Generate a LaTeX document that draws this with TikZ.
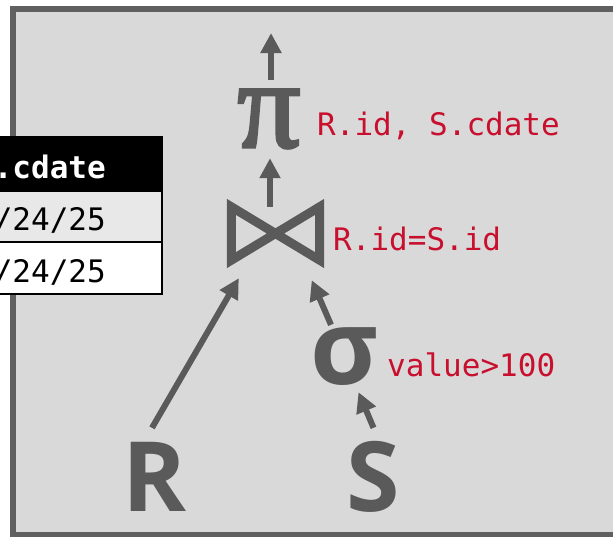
\documentclass[tikz,border=0pt]{standalone}
\usepackage{fontspec}
\setmainfont{DejaVu Sans}
\newfontfamily\mono{DejaVu Sans Mono}
\newfontfamily\osans{Open Sans}
\newfontfamily\tserb[FakeBold=2.5]{Liberation Serif}
\usetikzlibrary{arrows.meta,calc}
\definecolor{panel}{HTML}{D9D9D9}
\definecolor{frame}{HTML}{606060}
\definecolor{ink}{HTML}{5A5A5A}
\definecolor{lbl}{HTML}{C8102E}
\definecolor{rowgray}{HTML}{E8E8E8}
\tikzset{
  arr/.style={draw=ink, line width=6pt, -{Triangle[width=20pt,length=20pt]}},
  opsym/.style={anchor=base, inner sep=0pt, text=ink, text depth=0pt},
  lab/.style={anchor=base west, inner sep=0pt, text=lbl, font=\mono\fontsize{31}{31}\selectfont},
  celltxt/.style={anchor=base east, inner sep=0pt, font=\mono\fontsize{31}{31}\selectfont},
}
\begin{document}
\begin{tikzpicture}[x=1pt,y=-1pt]
\useasboundingbox (0,0) rectangle (613,536);
\fill[white] (0,0) rectangle (613,536);
% panel
\draw[line width=6pt, draw=frame, fill=panel] (13,9) rectangle (625,535);
% table (cropped)
\fill[black] (-5,136) rectangle (163,191);
\fill[rowgray] (-5,191) rectangle (163,242);
\fill[white] (-5,242) rectangle (163,295);
\draw[black, line width=2.5pt] (-5,191) -- (162,191);
\draw[black, line width=2.5pt] (-5,242) -- (162,242);
\draw[black, line width=2.5pt] (-5,137.5) rectangle (161.75,293.75);
\node[celltxt, text=white, font=\mono\bfseries\fontsize{31}{31}\selectfont] (hd) at (106,178) {.cdate};
\node[celltxt] (r1) at (106,230) {/24/25};
\node[celltxt] (r2) at (106,282) {/24/25};
% operators
\node[opsym, text height=60pt, font=\tserb\fontsize{125}{125}\selectfont] (pi) at (269,147) {π};
\node[minimum width=88pt, minimum height=53pt, inner sep=0pt] (join) at (275.5,233.5) {};
\draw[draw=ink, line width=9pt, miter limit=10] (join.north west) -- (join.south east) -- (join.north east) -- (join.south west) -- cycle;
\node[opsym, text height=56pt, font=\osans\bfseries\fontsize{104}{104}\selectfont] (sigma) at (344.5,384) {σ};
\node[opsym, text height=69pt, font=\osans\bfseries\fontsize{97}{97}\selectfont] (R) at (155,511) {R};
\node[opsym, text height=71pt, font=\osans\bfseries\fontsize{97}{97}\selectfont] (S) at (373.5,511) {S};
% labels
\node[lab] (lpi) at (317,135) {R.id, S.cdate};
\node[lab] (ljoin) at (333,250) {R.id=S.id};
\node[lab] (lsig) at (387,376) {value>100};
% connectors
\coordinate (out) at (271,33);
\draw[arr] ($(pi.north)+(2,-7)$) -- (out);
\draw[arr] ($(join.north)+(-5.5,0)$) -- ($(pi.south)+(1,11)$);
\draw[arr] ($(R.north)+(-3,-14)$) -- ($(join.south west)+(7.5,18)$);
\draw[arr] ($(sigma.north)+(-13.5,-3)$) -- ($(join.south east)+(-8,20)$);
\draw[arr] ($(S.north)+(0,-12)$) -- ($(sigma.south)+(14,8)$);
\end{tikzpicture}
\end{document}
